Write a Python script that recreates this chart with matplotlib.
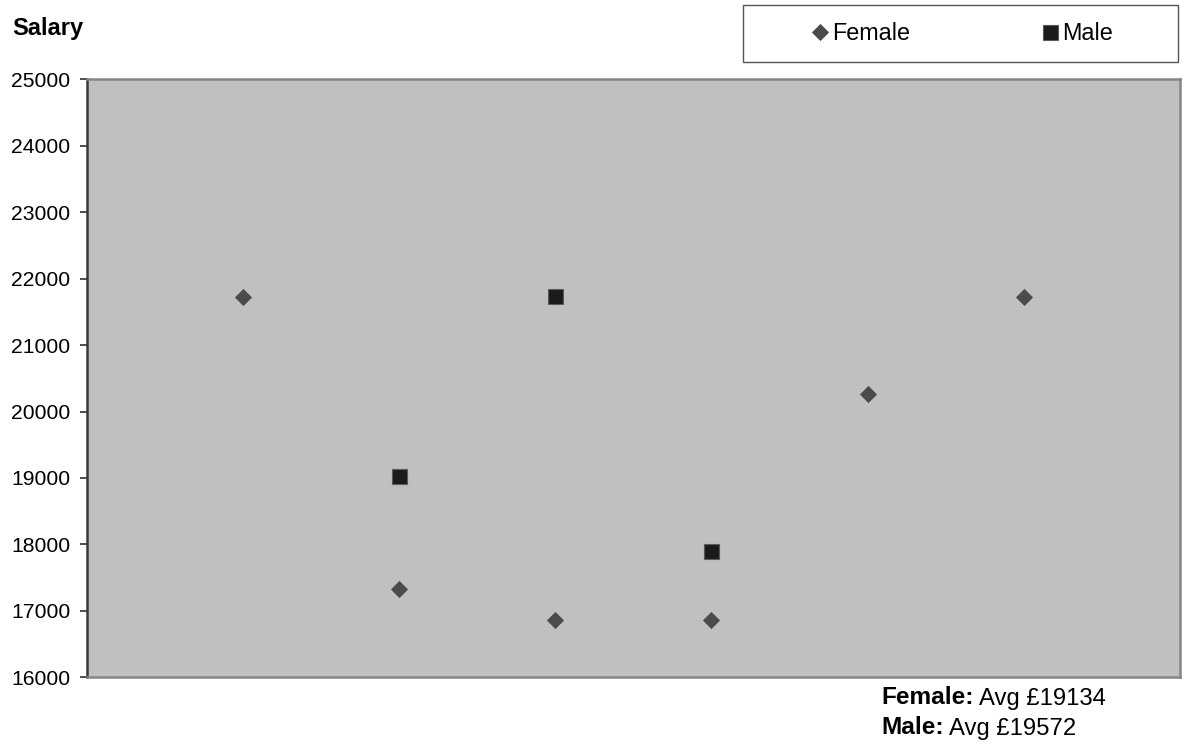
import matplotlib
matplotlib.use("Agg")
import matplotlib.pyplot as plt
from matplotlib.patches import Rectangle

plt.rcParams['font.family'] = ['Liberation Sans', 'DejaVu Sans']

# Salary observations by position along the x axis
female_x = [1, 2, 3, 4, 5, 6]
female_salary = [21730, 17335, 16862, 16862, 20260, 21730]
male_x = [2, 3, 4]
male_salary = [19025, 21738, 17896]

y_ticks = [16000, 17000, 18000, 19000, 20000, 21000, 22000, 23000, 24000, 25000]
series_names = ["Female", "Male"]
summary_labels = ["Female:", "Male:"]
summary_values = ["Avg £19134", "Avg £19572"]

W, H = 1183, 746
fig = plt.figure(figsize=(W / 100, H / 100), dpi=100)
fig.patch.set_facecolor("white")

ax = fig.add_axes([86.5 / W, 1 - 677.3 / H, (1180 - 86.5) / W, (677.3 - 79.3) / H])
ax.set_facecolor("#c0c0c0")

ax.plot(female_x, female_salary, linestyle="none", marker="D", markersize=8.2,
        markerfacecolor="#4b4b4b", markeredgecolor="#4b4b4b", markeredgewidth=0.6,
        label=series_names[0], zorder=3)
ax.plot(male_x, male_salary, linestyle="none", marker="s", markersize=10.8,
        markerfacecolor="#1b1b1b", markeredgecolor="#5a5a5a", markeredgewidth=0.8,
        label=series_names[1], zorder=3)

ax.set_xlim(0, 7)
ax.set_ylim(16000, 25000)
ax.set_xticks([])
ax.set_yticks(y_ticks)
ax.set_yticklabels([str(v) for v in y_ticks])
ax.tick_params(axis="y", direction="out", length=5, width=1.2, color="#303030",
               labelsize=15.2, pad=6.5, labelcolor="black")

for side in ("top", "right", "bottom"):
    ax.spines[side].set_color("#858585")
    ax.spines[side].set_linewidth(1.8)
ax.spines["left"].set_color("#3a3a3a")
ax.spines["left"].set_linewidth(1.8)

# Axis title above the value labels
fig.text(12 / W, 1 - 35 / H, "Salary", fontsize=17, fontweight="bold",
         ha="left", va="baseline")

# Legend box across the top right
fig.patches.append(Rectangle((742.7 / W, 1 - 61.7 / H), (1178 - 742.7) / W, (61.7 - 5) / H,
                             transform=fig.transFigure, facecolor="white",
                             edgecolor="#555555", linewidth=1.0))
handles, labels = ax.get_legend_handles_labels()
fig.legend(handles, labels, ncol=2, frameon=False, loc="center left",
           bbox_to_anchor=(810.5 / W, 1 - 33.5 / H), borderaxespad=0, borderpad=0,
           handlelength=0.8, handletextpad=0.12, columnspacing=5.6,
           fontsize=16.8, markerscale=1.0)

# Averages below the plot
for i, (lab, val) in enumerate(zip(summary_labels, summary_values)):
    yb = 1 - (704.5 + 30 * i) / H
    t = fig.text(881.7 / W, yb, lab, fontsize=17.6, fontweight="bold",
                 ha="left", va="baseline")
    fig.canvas.draw()
    bb = t.get_window_extent()
    fig.text(bb.x1 / W + 5 / W, yb, val, fontsize=17.2, ha="left", va="baseline")

fig.savefig("out.png", dpi=100)
